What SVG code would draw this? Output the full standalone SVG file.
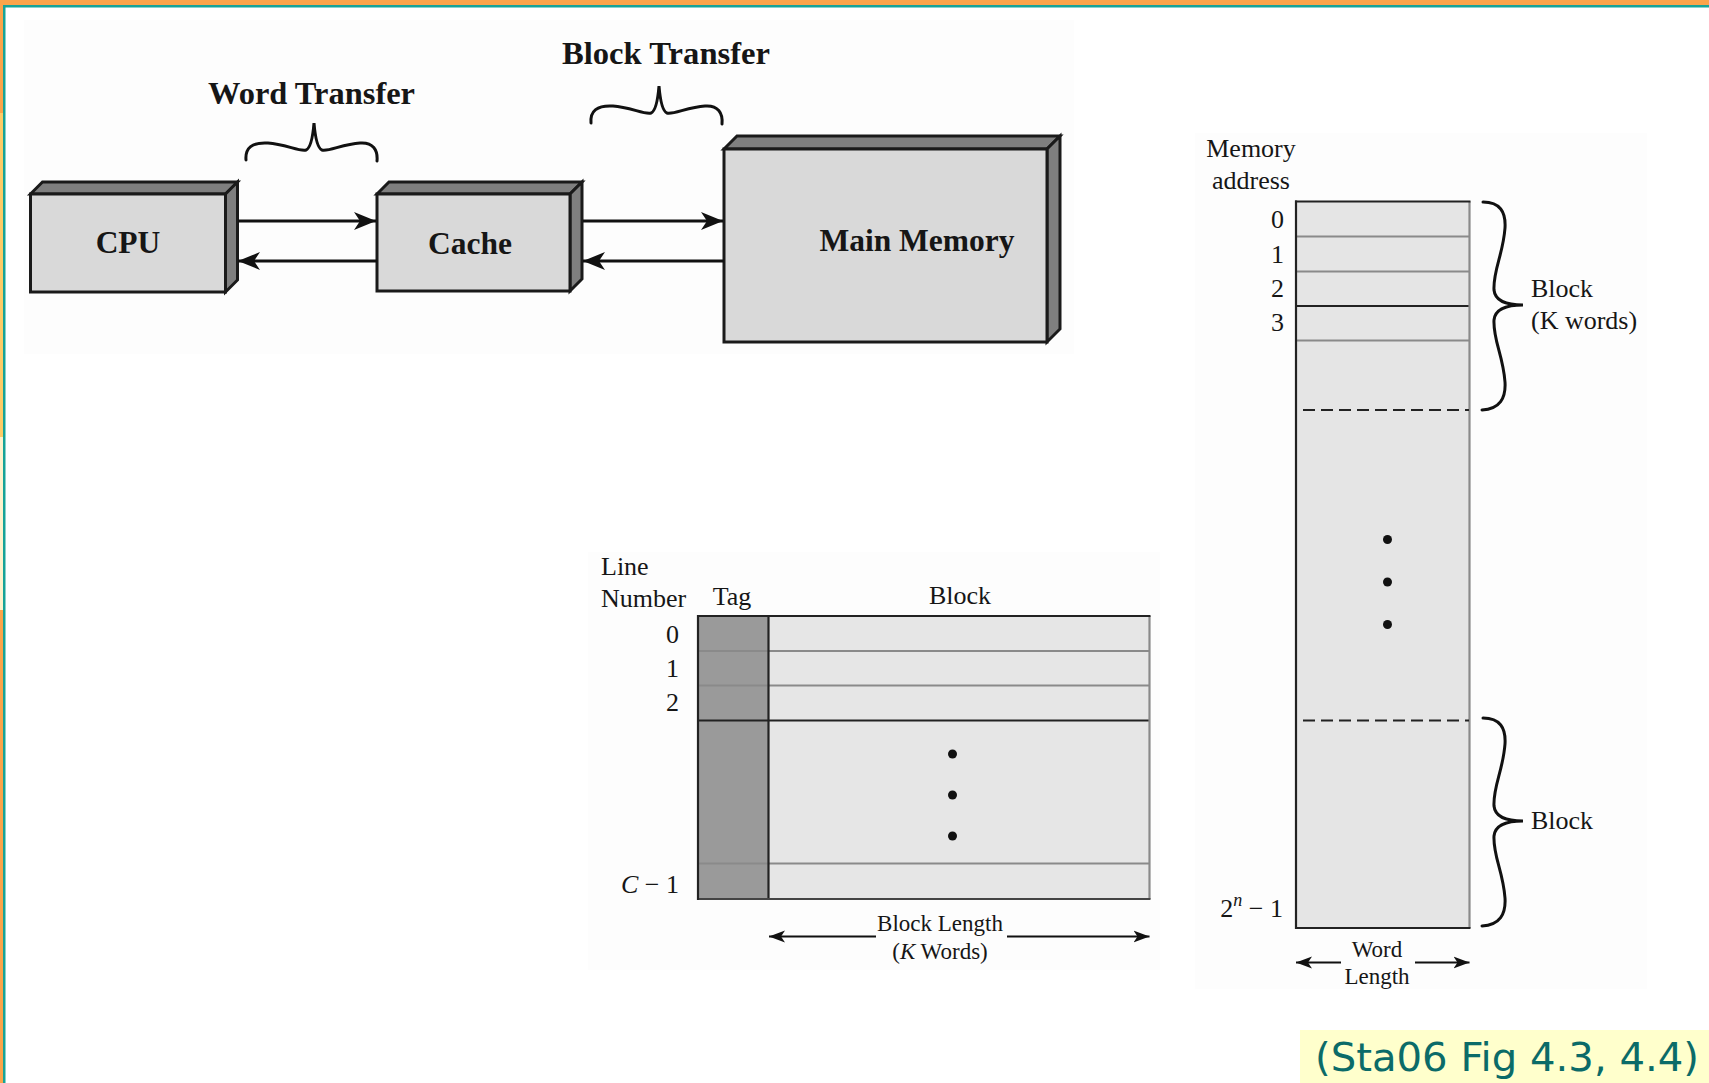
<svg xmlns="http://www.w3.org/2000/svg" width="1709" height="1083" viewBox="0 0 1709 1083">
  <style>
    .serif { font-family: "Liberation Serif", "Times New Roman", serif; fill: #161616; }
    .bold { font-weight: bold; font-size: 31.5px; }
    .lbl { font-size: 26px; }
    .small { font-size: 23px; }
    .face-front { fill: #d9d9d9; stroke: #1a1a1a; stroke-width: 3; stroke-linejoin: miter; }
    .face-dark { fill: #7f7f7f; stroke: #1a1a1a; stroke-width: 3; stroke-linejoin: miter; }
    .link { stroke: #111; stroke-width: 3; fill: none; }
    .dim { stroke: #111; stroke-width: 2.2; fill: none; }
    .brace { stroke: #111; stroke-width: 3; fill: none; stroke-linecap: round; }
    .cell { fill: #e6e6e6; }
    .tag { fill: #9a9a9a; }
    .rule-light { stroke: #8a8a8a; stroke-width: 2.2; }
    .rule-dark { stroke: #222; stroke-width: 2.2; }
    .dash { stroke: #222; stroke-width: 2.2; stroke-dasharray: 12 6; }
    .dot { fill: #111; }
  </style>
  <defs>
    <marker id="arrowBig" markerUnits="userSpaceOnUse" markerWidth="22" markerHeight="20" refX="22" refY="10" orient="auto">
      <path d="M0,1 L22,10 L0,19 L6,10 Z" fill="#111"/>
    </marker>
    <marker id="arrowSmall" markerUnits="userSpaceOnUse" markerWidth="16" markerHeight="13" refX="16" refY="6.5" orient="auto">
      <path d="M0,0.5 L16,6.5 L0,12.5 L4,6.5 Z" fill="#111"/>
    </marker>
    <!-- vertical curly brace opening to the left, tip on the right; spans 208 px -->
    <path id="vbrace" d="M0,0 C17,0 23,10 22,26 C20,53 10,68 11,88 C12,98 22,103 40,103 C22,103 12,108 11,118 C10,138 20,153 22,180 C23,196 17,207 -1,208"/>
    <!-- horizontal curly brace opening downward, tip at top -->
    <path id="hbrace" d="M0,37 C-1,25 6,19 22,20 C39,21 54,29 60,27 C65,25 67,12 68,0 C69,12 71,25 76,27 C82,29 97,21 114,20 C127,19 132,27 131,38"/>
  </defs>

  <!-- page background and slide frame -->
  <rect x="0" y="0" width="1709" height="1083" fill="#ffffff"/>
  <rect x="24" y="20" width="1050" height="334" fill="#fdfdfd"/>
  <rect x="1195" y="133" width="452" height="856" fill="#fdfdfd"/>
  <rect x="588" y="552" width="572" height="418" fill="#fdfdfd"/>
  <rect x="0" y="0" width="1709" height="5" fill="#fba44a"/>
  <rect x="0" y="5" width="1709" height="2.5" fill="#17a398"/>
  <rect x="0" y="0" width="3" height="113" fill="#fba44a"/>
  <rect x="0" y="113" width="3" height="324" fill="#ffcc66"/>
  <rect x="0" y="437" width="3" height="173" fill="#fff2cc"/>
  <rect x="0" y="610" width="3" height="473" fill="#fba44a"/>
  <rect x="3" y="5" width="2.5" height="1078" fill="#17a398"/>

  <!-- transfer labels and braces -->
  <g id="word-transfer">
    <text class="serif bold" x="208" y="104" textLength="207" lengthAdjust="spacingAndGlyphs">Word Transfer</text>
    <use href="#hbrace" class="brace" transform="translate(246,123)"/>
  </g>
  <g id="block-transfer">
    <text class="serif bold" x="562" y="64" textLength="208" lengthAdjust="spacingAndGlyphs">Block Transfer</text>
    <use href="#hbrace" class="brace" transform="translate(591,86)"/>
  </g>

  <!-- hierarchy boxes -->
  <g id="cpu">
    <polygon class="face-dark" points="30.5,194 42.5,182 237.5,182 225.5,194"/>
    <polygon class="face-dark" points="225.5,194 237.5,182 237.5,280 225.5,292"/>
    <rect class="face-front" x="30.5" y="194" width="195" height="98"/>
    <text class="serif bold" x="128" y="253" text-anchor="middle">CPU</text>
  </g>
  <g id="cache">
    <polygon class="face-dark" points="377,194 389,182 582,182 570,194"/>
    <polygon class="face-dark" points="570,194 582,182 582,279 570,291"/>
    <rect class="face-front" x="377" y="194" width="193" height="97"/>
    <text class="serif bold" x="470" y="254" text-anchor="middle">Cache</text>
  </g>
  <g id="main-memory">
    <polygon class="face-dark" points="724,149 737,136 1060,136 1047,149"/>
    <polygon class="face-dark" points="1047,149 1060,136 1060,329 1047,342"/>
    <rect class="face-front" x="724" y="149" width="323" height="193"/>
    <text class="serif bold" x="917" y="251" text-anchor="middle">Main Memory</text>
  </g>

  <!-- data paths between the levels -->
  <g id="connectors">
    <line class="link" x1="238" y1="221" x2="376" y2="221" marker-end="url(#arrowBig)"/>
    <line class="link" x1="377" y1="261" x2="238" y2="261" marker-end="url(#arrowBig)"/>
    <line class="link" x1="583" y1="221" x2="723" y2="221" marker-end="url(#arrowBig)"/>
    <line class="link" x1="724" y1="261" x2="583" y2="261" marker-end="url(#arrowBig)"/>
  </g>

  <!-- cache organisation: tag + block per line -->
  <g id="cache-lines">
    <text class="serif lbl" x="601" y="575">Line</text>
    <text class="serif lbl" x="601" y="606.5">Number</text>
    <text class="serif lbl" x="732" y="605" text-anchor="middle">Tag</text>
    <text class="serif lbl" x="960" y="604" text-anchor="middle">Block</text>

    <rect class="tag" x="698" y="616" width="70.5" height="283"/>
    <rect class="cell" x="768.5" y="616" width="381" height="283"/>
    <line class="rule-light" x1="698" y1="651" x2="1149.5" y2="651"/>
    <line class="rule-light" x1="698" y1="685.5" x2="1149.5" y2="685.5"/>
    <line class="rule-light" x1="698" y1="863.5" x2="1149.5" y2="863.5"/>
    <line class="rule-dark" x1="698" y1="720.5" x2="1149.5" y2="720.5"/>
    <line class="rule-dark" x1="768.5" y1="616" x2="768.5" y2="899"/>
    <line class="rule-light" x1="1149.5" y1="616" x2="1149.5" y2="899"/>
    <line class="rule-dark" x1="697" y1="616" x2="1150.5" y2="616"/>
    <line class="rule-dark" x1="697" y1="899" x2="1150.5" y2="899" style="stroke:#444"/>
    <line class="rule-dark" x1="698" y1="615" x2="698" y2="900"/>

    <text class="serif lbl" x="679" y="642.5" text-anchor="end">0</text>
    <text class="serif lbl" x="679" y="676.5" text-anchor="end">1</text>
    <text class="serif lbl" x="679" y="710.5" text-anchor="end">2</text>
    <text class="serif lbl" x="679" y="893" text-anchor="end"><tspan font-style="italic">C</tspan> − 1</text>

    <circle class="dot" cx="952.5" cy="754" r="4.5"/>
    <circle class="dot" cx="952.5" cy="795" r="4.5"/>
    <circle class="dot" cx="952.5" cy="836" r="4.5"/>

    <line class="dim" x1="876" y1="936.5" x2="769" y2="936.5" marker-end="url(#arrowSmall)"/>
    <line class="dim" x1="1007" y1="936.5" x2="1149.5" y2="936.5" marker-end="url(#arrowSmall)"/>
    <text class="serif small" x="940" y="931" text-anchor="middle">Block Length</text>
    <text class="serif small" x="940" y="959" text-anchor="middle">(<tspan font-style="italic">K</tspan> Words)</text>
  </g>

  <!-- main memory organisation: words grouped into blocks -->
  <g id="memory-words">
    <text class="serif lbl" x="1251" y="156.5" text-anchor="middle">Memory</text>
    <text class="serif lbl" x="1251" y="189" text-anchor="middle">address</text>

    <rect class="cell" x="1296" y="201.5" width="173.5" height="726.5" style="fill:#e5e5e5"/>
    <line class="rule-light" x1="1296" y1="236.5" x2="1469.5" y2="236.5"/>
    <line class="rule-light" x1="1296" y1="271.5" x2="1469.5" y2="271.5"/>
    <line class="rule-dark" x1="1296" y1="306" x2="1469.5" y2="306"/>
    <line class="rule-light" x1="1296" y1="340.5" x2="1469.5" y2="340.5"/>
    <line class="rule-light" x1="1469.5" y1="201.5" x2="1469.5" y2="928"/>
    <line class="rule-dark" x1="1295" y1="201.5" x2="1470.5" y2="201.5"/>
    <line class="rule-dark" x1="1295" y1="928" x2="1470.5" y2="928"/>
    <line class="rule-dark" x1="1296" y1="200.5" x2="1296" y2="929"/>
    <line class="dash" x1="1303" y1="410" x2="1469" y2="410"/>
    <line class="dash" x1="1303" y1="720.5" x2="1469" y2="720.5"/>

    <text class="serif lbl" x="1284" y="228" text-anchor="end">0</text>
    <text class="serif lbl" x="1284" y="263" text-anchor="end">1</text>
    <text class="serif lbl" x="1284" y="297" text-anchor="end">2</text>
    <text class="serif lbl" x="1284" y="331" text-anchor="end">3</text>
    <text class="serif lbl" x="1283" y="917" text-anchor="end">2<tspan font-style="italic" font-size="18" dy="-11">n</tspan><tspan dy="11"> − 1</tspan></text>

    <circle class="dot" cx="1387.5" cy="539.5" r="4.5"/>
    <circle class="dot" cx="1387.5" cy="582" r="4.5"/>
    <circle class="dot" cx="1387.5" cy="624.5" r="4.5"/>

    <use href="#vbrace" class="brace" transform="translate(1483,202)"/>
    <text class="serif lbl" x="1531" y="297">Block</text>
    <text class="serif lbl" x="1531" y="329">(K words)</text>

    <use href="#vbrace" class="brace" transform="translate(1483,718)"/>
    <text class="serif lbl" x="1531" y="829">Block</text>

    <line class="dim" x1="1341" y1="962.5" x2="1296" y2="962.5" marker-end="url(#arrowSmall)"/>
    <line class="dim" x1="1415" y1="962.5" x2="1469.5" y2="962.5" marker-end="url(#arrowSmall)"/>
    <text class="serif small" x="1377" y="957" text-anchor="middle">Word</text>
    <text class="serif small" x="1377" y="984" text-anchor="middle">Length</text>
  </g>

  <!-- source reference -->
  <g id="caption">
    <rect x="1300" y="1030" width="409" height="53" fill="#ffffcc"/>
    <text x="1315" y="1071" font-family="'DejaVu Sans', 'Open Sans', sans-serif" font-size="39.5" fill="#0b6b68" textLength="384" lengthAdjust="spacingAndGlyphs">(Sta06 Fig 4.3, 4.4)</text>
  </g>
</svg>
